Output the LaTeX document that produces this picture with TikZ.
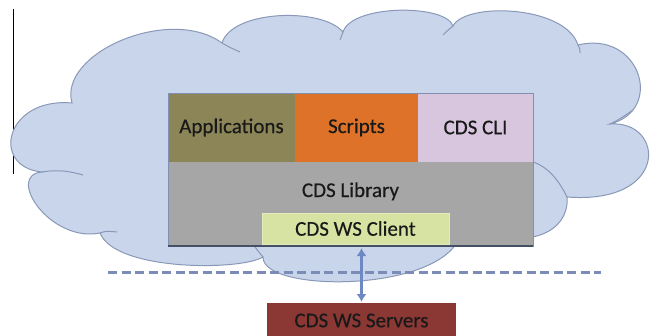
\documentclass[tikz,border=0pt]{standalone}
\usepackage{fontspec}
\setmainfont{Carlito}[FakeBold=0.4]
\usetikzlibrary{arrows.meta}

\definecolor{cloudfill}{RGB}{201,213,235}
\definecolor{cloudline}{RGB}{138,152,184}
\definecolor{appcol}{RGB}{139,133,88}
\definecolor{scriptcol}{RGB}{222,114,40}
\definecolor{clicol}{RGB}{215,198,222}
\definecolor{libcol}{RGB}{166,166,166}
\definecolor{clientcol}{RGB}{215,227,162}
\definecolor{servercol}{RGB}{139,56,52}
\definecolor{boxline}{RGB}{128,144,176}
\definecolor{edgecol}{RGB}{70,80,100}
\definecolor{dashcol}{RGB}{124,140,184}
\definecolor{arrowcol}{RGB}{110,136,196}
\definecolor{textcol}{RGB}{25,25,25}

\begin{document}
\begin{tikzpicture}[x=1pt,y=1pt,
  layer/.style={inner sep=0pt,outer sep=0pt,anchor=north west,text=textcol,
    font=\fontsize{21}{25}\selectfont},
  cloud/.style={fill=cloudfill,draw=cloudline,line width=1pt},
  seam/.style={draw=cloudline,line width=1pt},
  link/.style={{Latex[length=8pt,width=10pt]}-{Latex[length=8pt,width=10pt]},draw=arrowcol,line width=2.2pt}]
\useasboundingbox (0,0) rectangle (652,335);
\draw[black,line width=0.8pt] (13,326) -- (13,161);
% cloud
\draw[cloud] (72,232)
  .. controls (58,282) and (170,330) .. (222,292)
  .. controls (232,325) and (322,328) .. (343,303)
  .. controls (352,331) and (446,331) .. (453,309)
  .. controls (465,333) and (565,330) .. (578,290)
  .. controls (640,305) and (665,225) .. (610,211)
  .. controls (665,215) and (670,130) .. (567,138)
  .. controls (570,105) and (530,80) .. (462,110)
  .. controls (462,42) and (262,40) .. (263,78)
  .. controls (240,64) and (115,64) .. (100,102)
  .. controls (50,92) and (5,160) .. (42,163)
  .. controls (-10,168) and (5,238) .. (72,232) -- cycle;
\draw[seam] (222,292) .. controls (229,288) .. (240,283);
\draw[seam] (343,303) .. controls (341,299) .. (340,295);
\draw[seam] (453,309) .. controls (447,304) .. (443,300);
\draw[seam] (578,290) .. controls (580,286) .. (580,282);
\draw[seam] (610,211) .. controls (620,216) .. (633,225);
\draw[seam] (567,138) .. controls (558,156) and (548,168) .. (533,173);
\draw[seam] (42,163) .. controls (60,166) and (72,163) .. (83,160);
\draw[seam] (100,102) .. controls (106,104) .. (117,103);
\draw[seam] (263,78) .. controls (258,84) .. (252,92);
% boundary
\coordinate (dashl) at (108,63);
\coordinate (dashr) at (601,63);
\draw[dashcol,line width=3pt,dash pattern=on 9pt off 4.5pt] (dashl) -- (dashr);
% layers
\node[layer,fill=appcol,minimum width=127pt,minimum height=69pt] (apps) at (168,242) {Applications};
\node[layer,fill=scriptcol,minimum width=123pt,minimum height=69pt] (scripts) at (apps.north east) {Scripts};
\node[layer,fill=clicol,minimum width=115pt,minimum height=69pt] (cli) at (scripts.north east) {CDS CLI};
\node[layer,fill=libcol,minimum width=365pt,text height=35pt,text depth=49pt] (lib) at (apps.south west) {CDS Library};
\draw[boxline,line width=0.7pt] (apps.north west) rectangle (lib.south east);
\draw[edgecol,line width=1.6pt] (lib.south west) -- (lib.south east);
\node[layer,anchor=south west,fill=clientcol,draw=clientcol!70!white,line width=0.6pt,
  minimum width=187pt,minimum height=31pt] (client) at (262,91) {CDS WS Client};
\node[layer,anchor=north west,fill=servercol,minimum width=189pt,minimum height=35pt] (servers) at (267,32) {CDS WS Servers};
\draw[link,shorten <=4pt,shorten >=1pt] (servers.north |- client.south) -- (servers.north);
\end{tikzpicture}
\end{document}
